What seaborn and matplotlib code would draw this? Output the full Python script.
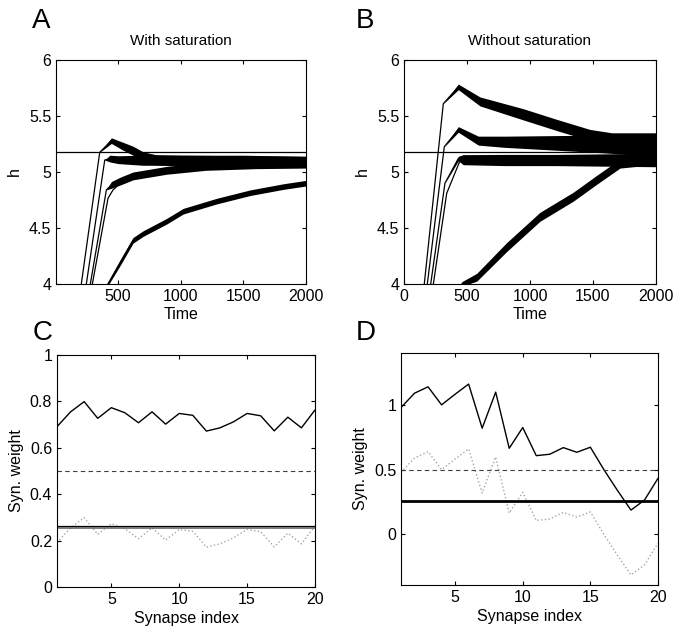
import numpy as np
import seaborn as sns
import matplotlib
matplotlib.use("Agg")
import matplotlib.pyplot as plt

# panel A: h traces with saturation (time, centre, half-width of the sawtooth band)
a1_t = [207, 354, 447, 540, 620, 700, 800, 1000, 1500, 2000]
a1_h = [4.0, 5.176, 5.28, 5.23, 5.19, 5.14, 5.11, 5.10, 5.10, 5.09]
a1_s = [0, 0, 0.025, 0.035, 0.04, 0.04, 0.045, 0.05, 0.05, 0.05]
a2_t = [247, 394, 434, 500, 700, 1000, 1500, 2000]
a2_h = [4.0, 5.107, 5.12, 5.11, 5.105, 5.105, 5.10, 5.095]
a2_s = [0, 0, 0.03, 0.035, 0.045, 0.045, 0.045, 0.045]
a3_t = [279, 407, 447, 520, 620, 887, 1200, 1600, 2000]
a3_h = [4.0, 4.84, 4.885, 4.92, 4.965, 5.015, 5.05, 5.065, 5.07]
a3_s = [0, 0, 0.03, 0.035, 0.035, 0.035, 0.035, 0.035, 0.035]
a4_t = [295, 420, 460, 520]
a4_h = [4.0, 4.765, 4.84, 4.90]
a4_s = [0, 0, 0, 0]
a5_t = [419, 514, 620, 700, 887, 1020, 1287, 1554, 1820, 2000]
a5_h = [4.0, 4.185, 4.39, 4.45, 4.56, 4.65, 4.74, 4.815, 4.87, 4.90]
a5_s = [0.015, 0.025, 0.025, 0.025, 0.025, 0.025, 0.025, 0.025, 0.025, 0.025]

# panel B: h traces without saturation
b1_t = [161, 312, 431, 603, 947, 1212, 1476, 1650, 1800, 2000]
b1_h = [4.0, 5.61, 5.76, 5.63, 5.515, 5.42, 5.33, 5.28, 5.26, 5.25]
b1_s = [0, 0, 0.025, 0.04, 0.05, 0.05, 0.05, 0.07, 0.09, 0.10]
b2_t = [185, 320, 431, 590, 800, 1200, 1600, 2000]
b2_h = [4.0, 5.226, 5.38, 5.28, 5.27, 5.26, 5.25, 5.24]
b2_s = [0, 0, 0.025, 0.04, 0.05, 0.065, 0.08, 0.10]
b3_t = [212, 325, 431, 470, 800, 1200, 1600, 2000]
b3_h = [4.0, 4.90, 5.12, 5.11, 5.107, 5.107, 5.107, 5.107]
b3_s = [0, 0, 0.02, 0.045, 0.05, 0.05, 0.055, 0.06]
b4_t = [233, 339, 444, 500]
b4_h = [4.0, 4.81, 5.10, 5.10]
b4_s = [0, 0, 0, 0]
b5_t = [458, 577, 815, 1079, 1344, 1529, 1714, 1850, 2000]
b5_h = [4.0, 4.06, 4.33, 4.60, 4.78, 4.93, 5.075, 5.10, 5.10]
b5_s = [0.02, 0.035, 0.04, 0.04, 0.04, 0.04, 0.04, 0.05, 0.05]

h_target = 5.176

# panels C and D: synaptic weights
syn_idx = list(range(1, 21))
c_solid = [0.691, 0.755, 0.799, 0.727, 0.773, 0.751, 0.708, 0.755, 0.702, 0.748,
           0.740, 0.672, 0.686, 0.712, 0.748, 0.738, 0.673, 0.732, 0.686, 0.763]
c_dotted = [0.191, 0.255, 0.299, 0.227, 0.273, 0.251, 0.208, 0.255, 0.202, 0.248,
            0.240, 0.172, 0.186, 0.212, 0.248, 0.238, 0.173, 0.232, 0.186, 0.263]
c_dashed = 0.5
c_mean_black = 0.2615
c_mean_grey = 0.2525

d_solid = [0.979, 1.090, 1.139, 1.000, 1.082, 1.160, 0.820, 1.098, 0.665, 0.825,
           0.608, 0.619, 0.670, 0.634, 0.673, 0.500, 0.340, 0.188, 0.265, 0.433]
d_dotted = [0.479, 0.590, 0.639, 0.500, 0.582, 0.660, 0.320, 0.598, 0.165, 0.325,
            0.108, 0.119, 0.170, 0.134, 0.173, 0.000, -0.160, -0.312, -0.235, -0.067]
d_dashed = 0.5
d_mean = 0.26

sns.set_theme(style="ticks")
plt.rcParams["font.family"] = ["Liberation Sans", "DejaVu Sans"]
plt.rcParams["text.color"] = "black"
plt.rcParams["axes.labelcolor"] = "black"
plt.rcParams["xtick.color"] = "black"
plt.rcParams["ytick.color"] = "black"
plt.rcParams["xtick.direction"] = "in"
plt.rcParams["ytick.direction"] = "in"
plt.rcParams["xtick.top"] = True
plt.rcParams["ytick.right"] = True
plt.rcParams["xtick.major.size"] = 3
plt.rcParams["ytick.major.size"] = 3
plt.rcParams["axes.linewidth"] = 0.8
plt.rcParams["axes.edgecolor"] = "black"

W, H = 674, 635
fig = plt.figure(figsize=(W / 100, H / 100), dpi=100)


def box(x0, y0, x1, y1):
    return fig.add_axes([x0 / W, 1 - y1 / H, (x1 - x0) / W, (y1 - y0) / H])


axA = box(56, 60, 306, 284)
axB = box(404, 60, 656, 284)
axC = box(57, 355, 315, 587)
axD = box(401, 353, 658, 585)


def trace(ax, t, h, s):
    t = np.array(t, float)
    h = np.array(h, float)
    s = np.array(s, float)
    ax.fill_between(t, h - s, h + s, color="black", lw=0)
    sns.lineplot(x=t, y=h, ax=ax, color="black", lw=0.9)


for t, h, s in [(a1_t, a1_h, a1_s), (a2_t, a2_h, a2_s), (a3_t, a3_h, a3_s),
                (a4_t, a4_h, a4_s), (a5_t, a5_h, a5_s)]:
    trace(axA, t, h, s)
for t, h, s in [(b1_t, b1_h, b1_s), (b2_t, b2_h, b2_s), (b3_t, b3_h, b3_s),
                (b4_t, b4_h, b4_s), (b5_t, b5_h, b5_s)]:
    trace(axB, t, h, s)

for ax, title in [(axA, "With saturation"), (axB, "Without saturation")]:
    ax.axhline(h_target, color="black", lw=0.9)
    ax.set_ylim(4, 6)
    ax.set_yticks([4, 4.5, 5, 5.5, 6])
    ax.set_yticklabels(["4", "4.5", "5", "5.5", "6"])
    ax.set_title(title, fontsize=11, pad=11)
    ax.set_xlabel("Time", fontsize=11.5, labelpad=2)
    ax.set_ylabel("h", fontsize=11.5, labelpad=5)

axA.set_xlim(5, 2000)
axA.set_xticks([500, 1000, 1500, 2000])
axB.set_xlim(0, 2000)
axB.set_xticks([0, 500, 1000, 1500, 2000])

# panel C
sns.lineplot(x=syn_idx, y=c_solid, ax=axC, color="black", lw=1.0)
sns.lineplot(x=syn_idx, y=c_dotted, ax=axC, color="0.65", lw=1.0, linestyle=":")
axC.axhline(c_dashed, color="0.25", lw=0.8, linestyle="--", dashes=(4, 3))
axC.axhline(c_mean_black, color="black", lw=0.9)
axC.axhline(c_mean_grey, color="0.35", lw=1.1)
axC.set_ylim(0, 1)
axC.set_yticks([0, 0.2, 0.4, 0.6, 0.8, 1])
axC.set_yticklabels(["0", "0.2", "0.4", "0.6", "0.8", "1"])

# panel D
sns.lineplot(x=syn_idx, y=d_solid, ax=axD, color="black", lw=1.0)
sns.lineplot(x=syn_idx, y=d_dotted, ax=axD, color="0.65", lw=1.0, linestyle=":")
axD.axhline(d_dashed, color="0.25", lw=0.8, linestyle="--", dashes=(4, 3))
axD.axhline(d_mean, color="black", lw=2.0)
axD.set_ylim(-0.39, 1.4)
axD.set_yticks([0, 0.5, 1])
axD.set_yticklabels(["0", "0.5", "1"])

for ax in (axC, axD):
    ax.set_xlim(1, 20)
    ax.set_xticks([5, 10, 15, 20])
    ax.set_xlabel("Synapse index", fontsize=11.5, labelpad=3)
    ax.set_ylabel("Syn. weight", fontsize=11.5, labelpad=4)

for ax in (axA, axB, axC, axD):
    ax.tick_params(labelsize=11.5, colors="black", width=0.8)
    for sp in ax.spines.values():
        sp.set_visible(True)
        sp.set_color("black")

for lab, x, y in [("A", 32, 28), ("B", 356, 28), ("C", 33, 340), ("D", 356, 340)]:
    fig.text(x / W, 1 - y / H, lab, fontsize=20, ha="left", va="baseline", color="black")

fig.savefig("out.png", dpi=100)
